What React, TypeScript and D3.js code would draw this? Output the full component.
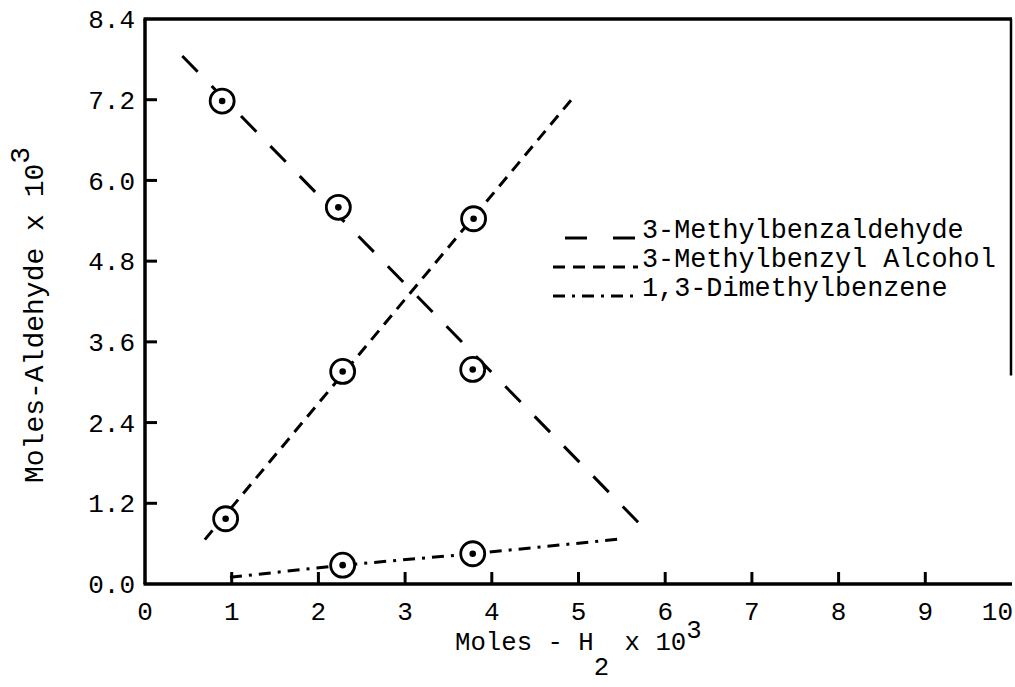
import * as d3 from 'd3';

// tick values
const xTicks = [0, 1, 2, 3, 4, 5, 6, 7, 8, 9, 10];
const yTicks = [0, 1.2, 2.4, 3.6, 4.8, 6.0, 7.2, 8.4];

// measured points (moles H2 x 10^3, moles x 10^3)
const aldehydePts: [number, number][] = [[0.89, 7.18], [2.23, 5.6], [3.78, 3.19]];
const alcoholPts: [number, number][] = [[0.93, 0.97], [2.28, 3.16], [3.79, 5.43]];
const xylenePts: [number, number][] = [[2.28, 0.28], [3.78, 0.45]];

// hand-drawn fit lines
const aldehydeFit: [number, number][] = [[0.43, 7.85], [5.74, 0.85]];
const alcoholFit: [number, number][] = [[0.69, 0.66], [4.95, 7.25]];
const xyleneFit: [number, number][] = [[0.98, 0.1], [2.28, 0.28], [3.78, 0.45], [5.49, 0.67]];

const legendNames = ['3-Methylbenzaldehyde', '3-Methylbenzyl Alcohol', '1,3-Dimethylbenzene'];
const dashes = ['22 20', '12 8', '12 7 3 7'];

const W = 1015;
const H = 687;
const FONT = '"Liberation Mono", "Courier New", monospace';

export default function App() {
    const x = d3.scaleLinear().domain([0, 10]).range([145, 1012]);
    const y = d3.scaleLinear().domain([0, 8.4]).range([584, 19]);

    const line = d3.line<[number, number]>()
        .x(d => x(d[0]))
        .y(d => y(d[1]));

    const fits = [aldehydeFit, alcoholFit, xyleneFit];
    const points = [...aldehydePts, ...alcoholPts, ...xylenePts];

    const x0 = x(0), x10 = x(10), yTop = y(8.4), yBot = y(0);

    return (
        <svg width={W} height={H} style={{ position: 'absolute', left: 0, top: 0, background: '#fff' }}
            fontFamily={FONT}>
            {/* frame */}
            <g stroke="#000" strokeWidth={3.5} fill="none">
                <line x1={x0} y1={yTop} x2={x0} y2={yBot} />
                <line x1={x0 - 1.5} y1={yBot} x2={x10} y2={yBot} />
                <line x1={x0 - 1.5} y1={yTop} x2={x10} y2={yTop} />
                <line x1={x10 - 1} y1={yTop} x2={x10 - 1} y2={y(3.1)} strokeWidth={2.5} />
            </g>

            {/* ticks, pointing in */}
            <g stroke="#000" strokeWidth={3}>
                {xTicks.slice(1, -1).map(t => (
                    <line key={'xt' + t} x1={x(t)} x2={x(t)} y1={yBot} y2={yBot - 12} />
                ))}
                {yTicks.slice(1, -1).map(t => (
                    <line key={'yt' + t} x1={x0} x2={x0 + 12} y1={y(t)} y2={y(t)} />
                ))}
            </g>

            {/* tick labels */}
            <g fontSize={26} fill="#000">
                {xTicks.map(t => (
                    <text key={'xl' + t} x={t === 10 ? x(t) + 1 : x(t)} y={620}
                        textAnchor={t === 10 ? 'end' : 'middle'}>{t}</text>
                ))}
                {yTicks.map(t => (
                    <text key={'yl' + t} x={135} y={y(t)} dy="0.35em" textAnchor="end">
                        {t.toFixed(1)}
                    </text>
                ))}
            </g>

            {/* axis titles */}
            <text x={455} y={650} fontSize={25.7} fill="#000" style={{ whiteSpace: 'pre' }}>
                Moles - H<tspan dy={25}>2</tspan><tspan dy={-25}> x 10</tspan><tspan dy={-12}>3</tspan>
            </text>
            <text transform="translate(43,483) rotate(-90)" fontSize={28} fill="#000" style={{ whiteSpace: 'pre' }}>
                Moles-Aldehyde x 10<tspan dy={-14}>3</tspan>
            </text>

            {/* fitted lines */}
            <g fill="none" stroke="#000" strokeWidth={3}>
                {fits.map((f, i) => (
                    <path key={'fit' + i} d={line(f) || ''} strokeDasharray={dashes[i]} />
                ))}
            </g>

            {/* data markers */}
            {points.map((p, i) => (
                <g key={'pt' + i} transform={`translate(${x(p[0])},${y(p[1])})`}>
                    <circle r={12} fill="#fff" stroke="#000" strokeWidth={2.8} />
                    <circle r={3.3} fill="#000" />
                </g>
            ))}

            {/* legend */}
            <g>
                {legendNames.map((name, i) => {
                    const ly = 238 + i * 29;
                    return (
                        <g key={'lg' + i}>
                            <line x1={i === 0 ? 565 : 553} x2={638} y1={ly} y2={ly}
                                stroke="#000" strokeWidth={3}
                                strokeDasharray={i === 0 ? '22 26' : dashes[i]} />
                            <text x={642} y={ly} fontSize={26.8} fill="#000">{name}</text>
                        </g>
                    );
                })}
            </g>
        </svg>
    );
}
